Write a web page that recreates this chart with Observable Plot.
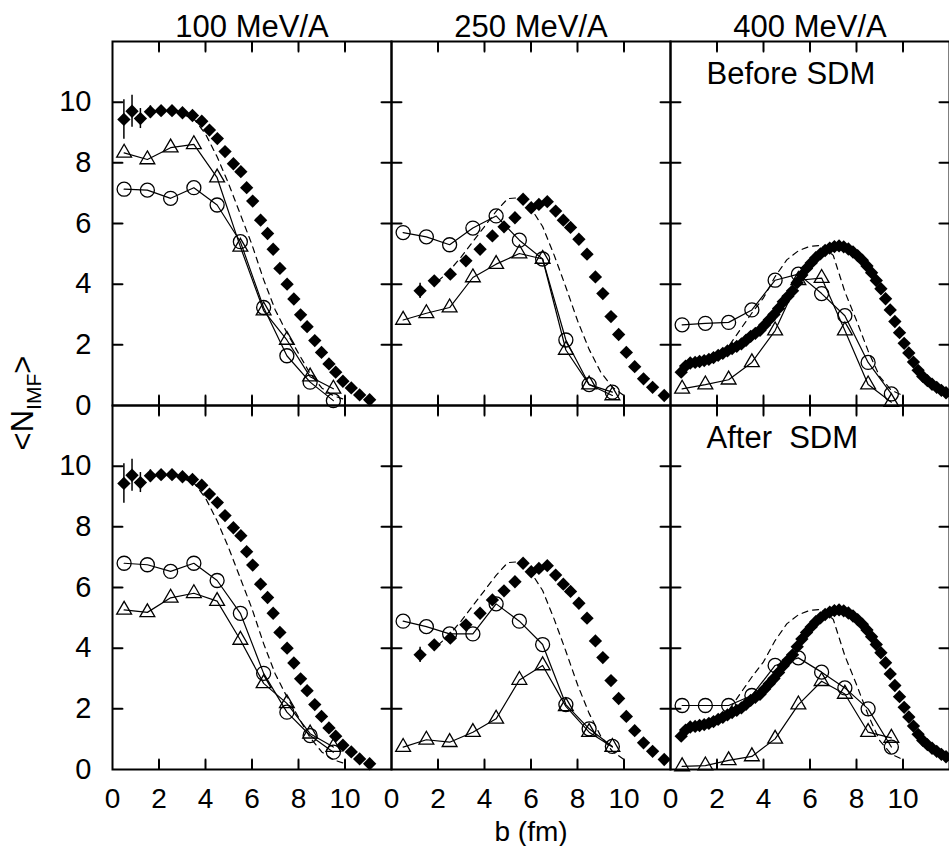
<!DOCTYPE html>
<html><head><meta charset="utf-8">
<script src="https://cdn.jsdelivr.net/npm/d3@7"></script>
<script src="https://cdn.jsdelivr.net/npm/@observablehq/plot@0.6"></script>
<style>
html,body{margin:0;padding:0;background:#fff;overflow:hidden}
svg text{white-space:pre}
</style></head><body><div id="chart"></div>
<script>
// ---- categories & labels ----
const energies = ["100", "250", "400"];
const stages = ["Before", "After"];
const stageNotes = [
  {E: "400", stage: "Before", t: "Before SDM"},
  {E: "400", stage: "After", t: "After  SDM"}
];
const xTickLabels = [0, 2, 4, 6, 8, 10];
const yTickLabels = [0, 2, 4, 6, 8, 10];
const innerTicks = [2, 4, 6, 8, 10];
const xLabel = ["b (fm)"];

// ---- experimental data (filled diamonds), same in both rows ----
const exp100B = [0.49,0.84,1.2,1.63,2.09,2.56,3.01,3.44,3.84,4.17,4.51,4.84,5.2,5.52,5.77,6.03,6.37,6.67,6.91,7.2,7.51,7.8,8.09,8.37,8.7,8.99,9.31,9.6,9.91,10.27,10.63,11.06];
const exp100N = [9.43,9.7,9.46,9.68,9.72,9.72,9.65,9.56,9.37,9.08,8.8,8.37,7.97,7.71,7.18,6.74,6.11,5.67,5.15,4.52,4.0,3.51,2.99,2.6,2.14,1.75,1.37,1.1,0.8,0.58,0.35,0.19];
const exp100Err = [0.65,0.53,0.33,0.2,0.15,0.12,0.1,0.08,0,0,0,0,0,0,0,0,0,0,0,0,0,0,0,0,0,0,0,0,0,0,0,0];

const exp250B = [1.23,1.84,2.53,3.2,3.81,4.34,4.84,5.31,5.66,6.01,6.34,6.7,7.06,7.39,7.7,8.06,8.41,8.77,9.09,9.44,9.77,10.1,10.46,10.84,11.23,11.73];
const exp250N = [3.78,4.11,4.33,4.77,5.15,5.59,5.89,6.19,6.8,6.52,6.63,6.72,6.41,6.11,5.87,5.48,4.99,4.24,3.69,2.93,2.34,1.75,1.28,0.88,0.6,0.33];
const exp250Err = [0.25,0.1,0.1,0.08,0.08,0.08,0.08,0.1,0.15,0.15,0.15,0.12,0.1,0.1,0,0,0,0,0,0,0,0,0,0,0,0];

const exp400B = [0.46,0.65,0.85,1.06,1.25,1.45,1.65,1.85,2.05,2.25,2.45,2.65,2.85,3.05,3.25,3.45,3.65,3.85,4.05,4.25,4.45,4.65,4.85,5.05,5.25,5.45,5.65,5.85,6.05,6.25,6.45,6.65,6.85,7.05,7.25,7.45,7.65,7.85,8.05,8.25,8.45,8.65,8.85,9.05,9.25,9.45,9.65,9.85,10.05,10.25,10.45,10.65,10.85,11.05,11.25,11.45,11.65,11.85];
const exp400N = [1.1,1.3,1.4,1.42,1.45,1.48,1.52,1.58,1.65,1.72,1.8,1.88,1.95,2.03,2.15,2.28,2.38,2.48,2.65,2.83,3.0,3.2,3.42,3.6,3.78,4.05,4.3,4.52,4.7,4.87,5.0,5.11,5.19,5.24,5.26,5.23,5.16,5.06,4.94,4.79,4.6,4.38,4.12,3.85,3.52,3.15,2.77,2.4,2.05,1.73,1.43,1.16,0.96,0.82,0.7,0.6,0.5,0.42];

// ---- dashed model curves (same in both rows) ----
const dash100B = [3.0,3.5,4.0,4.5,5.0,5.5,6.0,6.5,7.0,7.5,8.0,8.5,9.0,9.5,9.9];
const dash100N = [9.6,9.45,8.95,8.2,7.3,6.3,5.3,4.15,3.15,2.4,1.72,1.05,0.58,0.32,0.22];
const dash250B = [2.0,2.5,3.0,3.5,4.0,4.5,5.0,5.5,6.0,6.5,7.0,7.5,8.0,8.5,9.0,9.5,10.0];
const dash250N = [4.1,4.45,4.9,5.4,5.9,6.4,6.82,6.85,6.5,5.9,4.95,3.9,2.8,1.85,1.1,0.6,0.33];
const dash400B = [0.5,1.0,1.5,2.0,2.5,3.0,3.5,4.0,4.5,5.0,5.5,6.0,6.5,7.0,7.5,8.0,8.5,9.0,9.5,10.0];
const dash400N = [1.15,1.3,1.45,1.65,1.95,2.5,3.05,3.55,4.25,4.8,5.1,5.25,5.28,4.95,3.75,2.8,1.8,0.95,0.5,0.33];

// ---- simulations: open circles and open triangles ----
const simB = [0.5,1.5,2.5,3.5,4.5,5.5,6.5,7.5,8.5,9.5];
const circ100Before = [7.13,7.1,6.83,7.18,6.61,5.4,3.23,1.64,0.77,0.16];
const tri100Before  = [8.33,8.11,8.5,8.61,7.51,5.23,3.13,2.16,0.95,0.55];
const circ100After  = [6.8,6.75,6.53,6.8,6.23,5.15,3.17,1.89,1.12,0.57];
const tri100After   = [5.26,5.18,5.66,5.81,5.55,4.27,2.84,2.18,1.18,0.74];
const circ250Before = [5.7,5.56,5.3,5.85,6.25,5.45,4.83,2.16,0.69,0.44];
const tri250Before  = [2.82,3.04,3.23,4.22,4.66,5.01,4.83,1.83,0.69,0.33];
const circ250After  = [4.89,4.71,4.47,4.47,5.46,4.89,4.12,2.14,1.34,0.76];
const tri250After   = [0.74,0.98,0.9,1.23,1.67,2.95,3.43,2.08,1.23,0.74];
const circ400Before = [2.66,2.71,2.74,3.15,4.13,4.33,3.69,2.96,1.42,0.38];
const tri400Before  = [0.55,0.69,0.85,1.42,2.47,4.13,4.2,2.47,0.69,0.11];
const circ400After  = [2.11,2.11,2.11,2.44,3.43,3.68,3.21,2.69,2.0,0.74];
const tri400After   = [0.1,0.13,0.3,0.43,1.01,2.14,2.91,2.49,1.23,1.04];

// ---- build tables ----
const expSets = {
  "100": [exp100B, exp100N, exp100Err],
  "250": [exp250B, exp250N, exp250Err],
  "400": [exp400B, exp400N, exp400B.map(() => 0)]
};
const dashSets = {"100": [dash100B, dash100N], "250": [dash250B, dash250N], "400": [dash400B, dash400N]};
const circSets = {
  "100": {Before: circ100Before, After: circ100After},
  "250": {Before: circ250Before, After: circ250After},
  "400": {Before: circ400Before, After: circ400After}
};
const triSets = {
  "100": {Before: tri100Before, After: tri100After},
  "250": {Before: tri250Before, After: tri250After},
  "400": {Before: tri400Before, After: tri400After}
};

const expRows = [], dashRows = [], circRows = [], triRows = [], tickRows = [];
for (const E of energies) {
  for (const stage of stages) {
    const [eb, en, ee] = expSets[E];
    eb.forEach((b, i) => expRows.push({E, stage, b, N: en[i], err: ee[i]}));
    const [db, dn] = dashSets[E];
    db.forEach((b, i) => dashRows.push({E, stage, b, N: dn[i]}));
    simB.forEach((b, i) => {
      circRows.push({E, stage, b, N: circSets[E][stage][i]});
      triRows.push({E, stage, b, N: triSets[E][stage][i]});
    });
    innerTicks.forEach(v => tickRows.push({E, stage, v}));
  }
}
const errRows = expRows.filter(d => d.err > 0);

// ---- layout ----
const W = 949, H = 846, mT = 40, mL = 112, mR = 0, mB = 77;
const T = 10; // inward tick length

const common = {x: "b", y: "N", fx: "E", fy: "stage"};

const plot = Plot.plot({
  width: W,
  height: H,
  marginTop: mT,
  marginLeft: mL,
  marginRight: mR,
  marginBottom: mB,
  style: {fontFamily: "'Liberation Sans', Arial, Helvetica, sans-serif", background: "white", color: "black"},
  x: {domain: [0, 12]},
  y: {domain: [0, 12]},
  fx: {domain: energies, padding: 0},
  fy: {domain: stages, padding: 0, axis: null},
  marks: [
    Plot.frame({strokeWidth: 2, fill: "none"}),
    // axes: labels
    Plot.axisFx({anchor: "top", tickSize: 0, tickPadding: 5, fontSize: 31, label: null, tickFormat: d => d + " MeV/A"}),
    Plot.axisX({anchor: "bottom", ticks: xTickLabels, tickSize: 0, tickPadding: 19, fontSize: 28, label: null}),
    Plot.axisY({anchor: "left", ticks: yTickLabels, tickSize: 0, tickPadding: 21, fontSize: 29, label: null}),
    // inward ticks on every side of every panel (short vectors anchored at the frame edges)
    Plot.vector(tickRows, {x: "v", fx: "E", fy: "stage", frameAnchor: "bottom", anchor: "start", length: T, rotate: 0, r: 0.5, stroke: "black", strokeWidth: 2, strokeLinecap: "butt"}),
    Plot.vector(tickRows, {x: "v", fx: "E", fy: "stage", frameAnchor: "top", anchor: "start", length: T, rotate: 180, r: 0.5, stroke: "black", strokeWidth: 2, strokeLinecap: "butt"}),
    Plot.vector(tickRows, {y: "v", fx: "E", fy: "stage", frameAnchor: "left", anchor: "start", length: T, rotate: 90, r: 0.5, stroke: "black", strokeWidth: 2, strokeLinecap: "butt"}),
    Plot.vector(tickRows, {y: "v", fx: "E", fy: "stage", frameAnchor: "right", anchor: "start", length: T, rotate: -90, r: 0.5, stroke: "black", strokeWidth: 2, strokeLinecap: "butt"}),
    // model curves
    Plot.line(dashRows, {...common, stroke: "black", strokeWidth: 1.2, strokeDasharray: "6,5"}),
    Plot.line(circRows, {...common, stroke: "black", strokeWidth: 1.2}),
    Plot.dot(circRows, {...common, symbol: "circle", r: 7, stroke: "black", strokeWidth: 1.3, fill: "none"}),
    Plot.line(triRows, {...common, stroke: "black", strokeWidth: 1.2}),
    Plot.dot(triRows, {...common, symbol: "triangle", r: 5.5, stroke: "black", strokeWidth: 1.3, fill: "none"}),
    // experimental data
    Plot.ruleX(errRows, {x: "b", y1: d => d.N - d.err, y2: d => d.N + d.err, fx: "E", fy: "stage", stroke: "black", strokeWidth: 1.5}),
    Plot.dot(expRows, {...common, symbol: "diamond2", r: 6, fill: "black", stroke: "none"}),
    // panel notes
    Plot.text(stageNotes, {fx: "E", fy: "stage", text: "t", frameAnchor: "top-left", dx: 36, dy: 20, lineAnchor: "top", textAnchor: "start", fontSize: 31}),
    // x axis title
    Plot.text(xLabel, {text: d => d, frameAnchor: "bottom", facet: "super", dy: 71, lineAnchor: "bottom", fontSize: 28})
  ]
});

// y axis title with subscript
const svg = d3.select(plot);
const yt = svg.append("text")
  .attr("transform", "translate(33,403) rotate(-90)")
  .attr("text-anchor", "middle")
  .attr("font-size", 31)
  .attr("fill", "black");
yt.append("tspan").text("<N");
yt.append("tspan").attr("font-size", 21).attr("dy", 8).text("IMF");
yt.append("tspan").attr("dy", -8).text(">");

document.getElementById("chart").appendChild(plot);
</script>
</body></html>
